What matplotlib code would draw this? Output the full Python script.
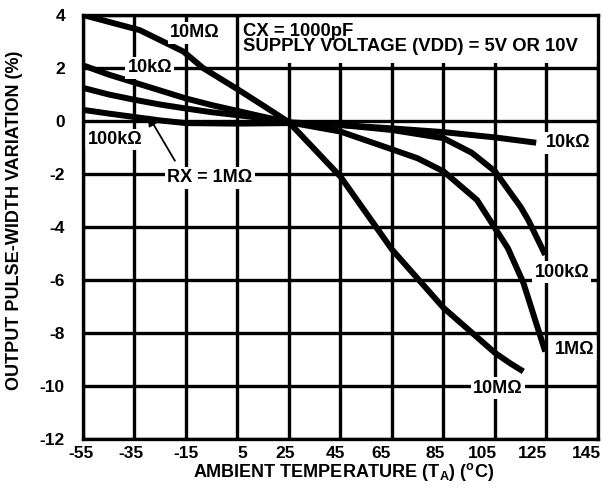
import numpy as np
import matplotlib
matplotlib.use('Agg')
import matplotlib.pyplot as plt
from matplotlib.patches import Rectangle
from matplotlib.transforms import ScaledTranslation

plt.rcParams['font.family'] = ['Liberation Sans', 'DejaVu Sans']
plt.rcParams['font.weight'] = 'bold'
plt.rcParams['axes.unicode_minus'] = False
plt.rcParams['mathtext.fontset'] = 'custom'
plt.rcParams['mathtext.rm'] = 'Liberation Sans:bold'
plt.rcParams['mathtext.it'] = 'Liberation Sans:bold'
plt.rcParams['mathtext.bf'] = 'Liberation Sans:bold'

# pulse width variation (%) vs ambient temperature, CX = 1000pF
t_10k = [-55, -45, -35, -25, -15, -5, 5, 15, 25, 45, 65, 85, 105, 121]
v_10k = [2.1, 1.75, 1.45, 1.15, 0.85, 0.6, 0.38, 0.16, -0.05, -0.15, -0.28, -0.42, -0.62, -0.82]

t_100k = [-55, -45, -35, -25, -15, 5, 25, 45, 65, 85, 96, 105, 115, 118, 124.5]
v_100k = [0.42, 0.28, 0.15, 0.02, -0.08, -0.1, -0.08, -0.15, -0.34, -0.65, -1.2, -1.9, -3.25, -3.75, -5.05]

t_1m = [-55, -45, -35, -25, -15, -5, 5, 15, 25, 45, 65, 75, 85, 98, 110, 116, 124.5]
v_1m = [1.25, 1.0, 0.8, 0.62, 0.47, 0.33, 0.22, 0.1, -0.05, -0.4, -1.07, -1.41, -1.9, -2.98, -4.8, -6.1, -8.7]

t_10m = [-55, -45, -33, -25, -16, -8.4, 5, 15, 25, 45, 65, 85, 105, 111, 116]
v_10m = [4.0, 3.74, 3.43, 3.05, 2.62, 2.0, 1.2, 0.58, -0.05, -2.1, -4.85, -7.05, -8.75, -9.15, -9.45]

xticks = list(range(-55, 146, 20))
yticks = list(range(-12, 5, 2))
# the original's x tick labels are not centred on their gridlines (pixels)
xtick_shift = [-2, -4, 0, 5, -4, -5, -11, -8, -13, -14, -12]

fig = plt.figure(figsize=(6.03, 4.91), dpi=100)
ax = fig.add_axes([0.1376, 0.1059, 0.8541, 0.8636])

ax.set_xlim(-55, 145)
ax.set_ylim(-12, 4)
ax.set_xticks(xticks)
ax.set_yticks(yticks)
ax.tick_params(length=0, labelsize=12.5)
ax.tick_params(axis='x', pad=5)
ax.tick_params(axis='y', pad=13)
ax.set_axisbelow(True)
ax.grid(True, color='black', lw=2.4)
for s in ax.spines.values():
    s.set_linewidth(2.4)
    s.set_zorder(5)

for lbl, dx in zip(ax.get_xticklabels(), xtick_shift):
    lbl.set_transform(lbl.get_transform() + ScaledTranslation(dx / 100, 0, fig.dpi_scale_trans))
    lbl.set_fontweight('bold')
for lbl in ax.get_yticklabels():
    lbl.set_fontweight('bold')

# white box for the conditions text
ax.add_patch(Rectangle((6.2, 2.17), 138.3, 1.8, facecolor='white', edgecolor='none', zorder=1))
ax.text(7.1, 3.38, 'CX = 1000pF', fontsize=13.3, fontweight='bold', va='center', zorder=6)
ax.text(7.1, 2.80, 'SUPPLY VOLTAGE (VDD) = 5V OR 10V', fontsize=13.3, fontweight='bold', va='center', zorder=6)

for t, v in [(t_10k, v_10k), (t_100k, v_100k), (t_1m, v_1m), (t_10m, v_10m)]:
    ax.plot(t, v, color='black', lw=4.3, solid_joinstyle='round', solid_capstyle='butt', zorder=3)

box = dict(facecolor='white', edgecolor='none', pad=1.5)
lab = dict(fontsize=13, fontweight='bold', ha='center', va='center', bbox=box, zorder=4)
ax.text(-11.5, 3.32, '10M\u03a9', **lab)
ax.text(-29, 2.0, '10k\u03a9', **lab)
ax.text(-42.6, -0.7, '100k\u03a9', **lab)
ax.text(-5.7, -2.15, 'RX = 1M\u03a9', **lab)
ax.text(133.3, -0.83, '10k\u03a9', **lab)
ax.text(131, -5.7, '100k\u03a9', **lab)
ax.text(136, -8.64, '1M\u03a9', **lab)
ax.text(106.2, -10.08, '10M\u03a9', **lab)

ax.annotate('', xy=(-29.8, 0.23), xytext=(-19.3, -1.5),
            arrowprops=dict(arrowstyle='-|>', color='black', lw=1.3,
                            mutation_scale=16, shrinkA=0, shrinkB=0), zorder=4)

fig.text(344 / 603, 1 - 477 / 491, 'AMBIENT TEMPERATURE (T$_\\mathrm{A}$) ($^\\mathrm{o}$C)',
         fontsize=13, fontweight='bold', ha='center', va='baseline')
fig.text(15 / 603, 1 - 220 / 491, 'OUTPUT PULSE-WIDTH VARIATION (%)', fontsize=13, fontweight='bold',
         rotation=90, ha='center', va='center')

fig.savefig('out.png', dpi=100)
